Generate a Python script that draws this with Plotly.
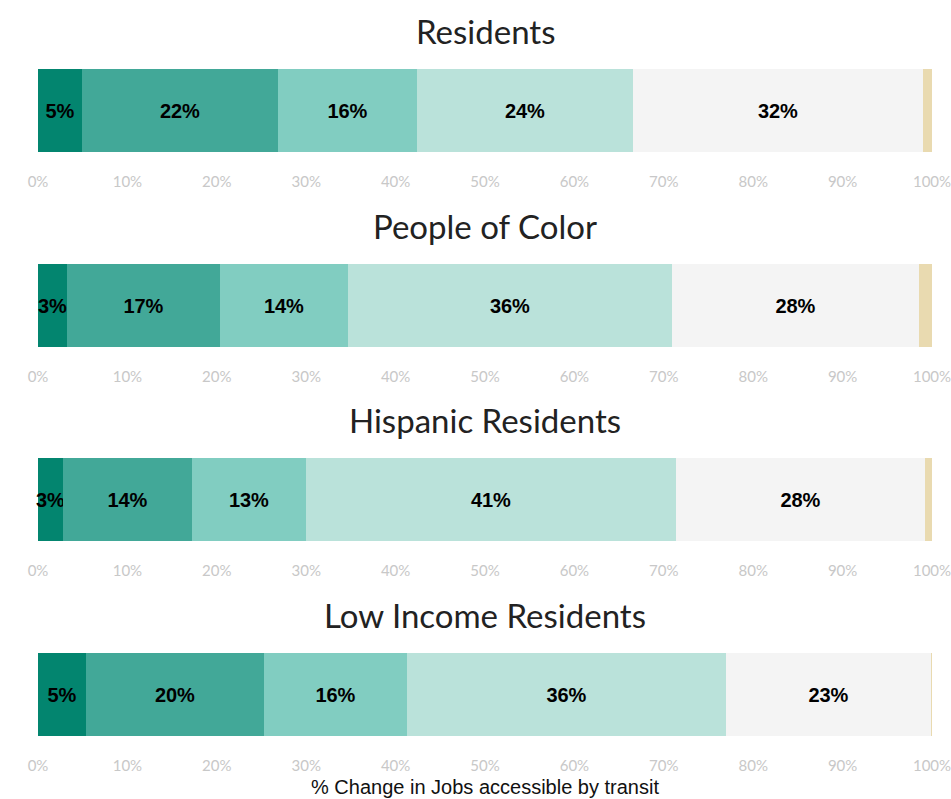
import plotly.graph_objects as go

# Groups shown as separate stacked bars, top to bottom
groups = ["Residents", "People of Color", "Hispanic Residents", "Low Income Residents"]

# Share of each group (%) in each change band, left to right
band_1 = [4.9, 3.2, 2.8, 5.4]
band_2 = [22.0, 17.2, 14.4, 19.9]
band_3 = [15.5, 14.3, 12.8, 16.0]
band_4 = [24.2, 36.2, 41.4, 35.7]
band_5 = [32.4, 27.7, 27.8, 22.9]
band_6 = [1.0, 1.4, 0.8, 0.1]

bands = [band_1, band_2, band_3, band_4, band_5, band_6]
band_colors = ["#03856f", "#42a898", "#81cdc1", "#bae2da", "#f4f4f4", "#e9dab0"]
band_labelled = [True, True, True, True, True, False]

tick_values = list(range(0, 101, 10))
tick_labels = [f"{v}%" for v in tick_values]
axis_title = "% Change in Jobs accessible by transit"

W, H = 951, 799
bar_tops = [69, 264, 458, 653]   # px from top of page
bar_height = 83

fig = go.Figure()
layout_axes = {}

for i, group in enumerate(groups):
    n = "" if i == 0 else str(i + 1)
    xa, ya = "x" + n, "y" + n
    for band, color, labelled in zip(bands, band_colors, band_labelled):
        v = band[i]
        fig.add_trace(go.Bar(
            x=[v], y=[group], orientation="h",
            xaxis=xa, yaxis=ya,
            marker=dict(color=color, line=dict(width=0)),
            text=[f"{v:.0f}%"] if labelled else None,
            textposition="inside" if labelled else "none",
            insidetextanchor="middle",
            textangle=0,
            constraintext="none",
            cliponaxis=False,
            textfont=dict(family="Liberation Sans, Arial, sans-serif", size=20,
                          color="black", weight="bold"),
            showlegend=False,
            hoverinfo="skip",
        ))
    top = 1 - bar_tops[i] / H
    bottom = 1 - (bar_tops[i] + bar_height) / H
    layout_axes["xaxis" + n] = dict(
        domain=[0, 1], anchor=ya, range=[0, 100],
        tickvals=tick_values, ticktext=tick_labels,
        tickfont=dict(family="Lato, sans-serif", size=15, color="#c8c8c8"),
        showgrid=False, zeroline=False, showline=False, ticks="",
        ticklabelstandoff=19, ticklabeloverflow="allow", fixedrange=True,
    )
    layout_axes["yaxis" + n] = dict(
        domain=[bottom, top], anchor=xa, type="category",
        range=[-0.5, 0.5], showticklabels=False, showgrid=False,
        zeroline=False, showline=False, fixedrange=True,
    )

annotations = []
for i, group in enumerate(groups):
    annotations.append(dict(
        text=group, x=0.5, y=1 - (bar_tops[i] - 38) / H,
        xref="paper", yref="paper", xanchor="center", yanchor="middle",
        showarrow=False,
        font=dict(family="Lato, sans-serif", size=33, color="#222222"),
    ))
annotations.append(dict(
    text=axis_title, x=0.5, y=1 - 787 / H,
    xref="paper", yref="paper", xanchor="center", yanchor="middle",
    showarrow=False,
    font=dict(family="Liberation Sans, Arial, sans-serif", size=20, color="#111111"),
))

fig.update_layout(
    width=W, height=H, autosize=False,
    margin=dict(l=38, r=19, t=0, b=0),
    barmode="stack", bargap=0,
    plot_bgcolor="white", paper_bgcolor="white",
    annotations=annotations,
    **layout_axes,
)

fig.write_html("out.html")
